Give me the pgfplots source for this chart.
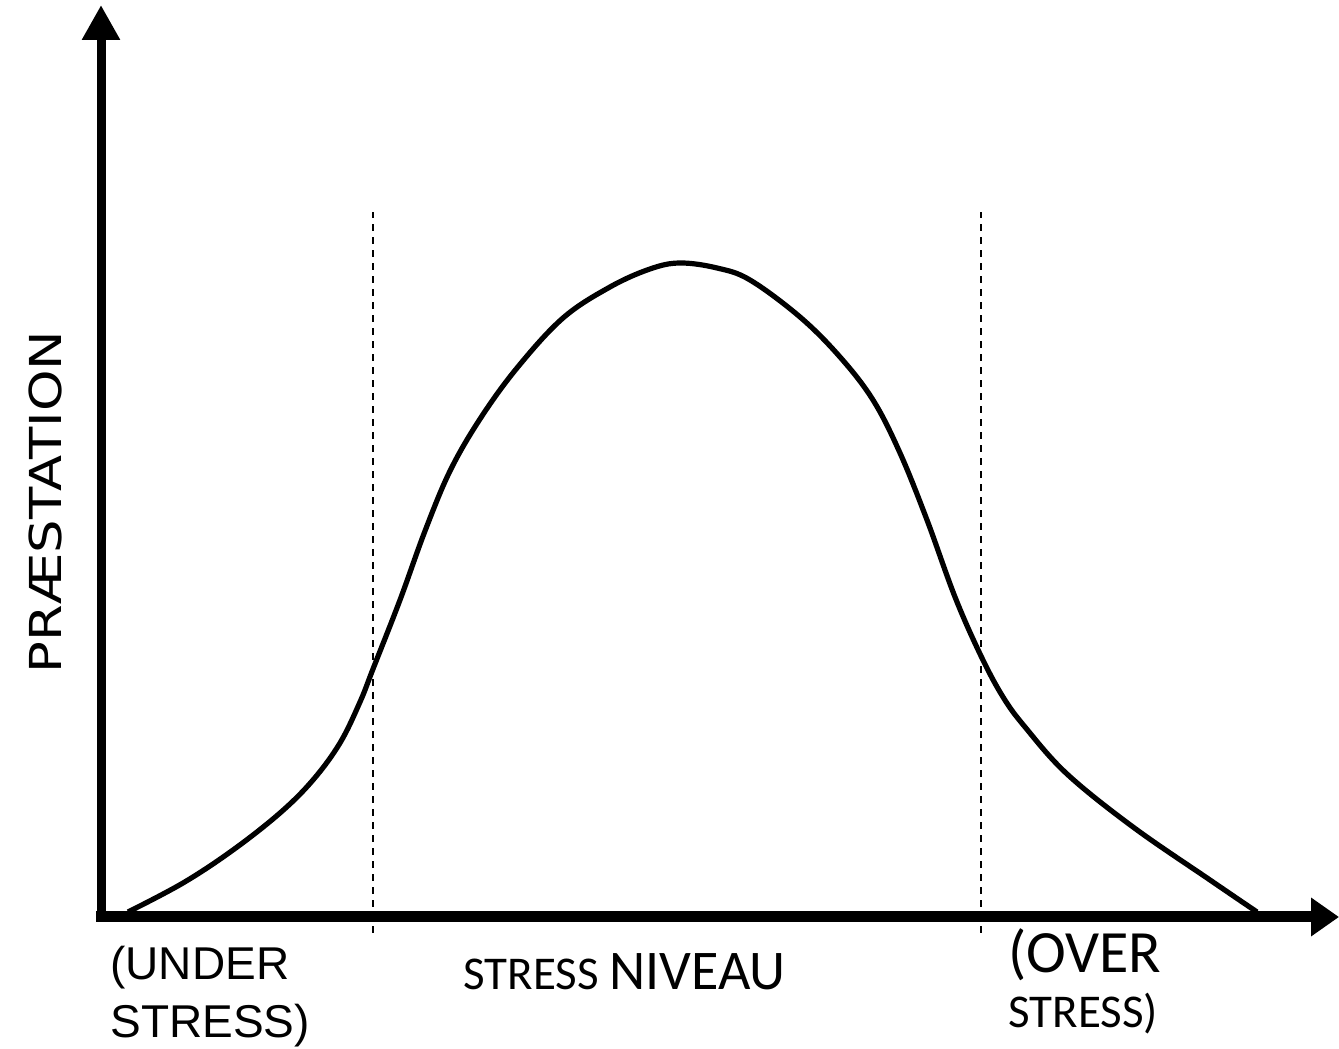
\documentclass[border=0pt]{standalone}
\usepackage{fontspec}
\setmainfont{Liberation Sans}
\newfontfamily\calibri{Carlito}
\newfontfamily\comic{DejaVu Sans}
\usepackage{pgfplots}
\pgfplotsset{compat=1.18}
\usetikzlibrary{arrows.meta}
\begin{document}
\begin{tikzpicture}
\begin{axis}[
  scale only axis, width=669.5pt, height=524.5pt,
  xmin=0, xmax=1339, ymin=0, ymax=1049,
  hide axis, clip=false]
% dashed zone borders
\addplot[black, line width=0.7pt, dash pattern=on 3.5pt off 3pt] coordinates {(373,116) (373,837)};
\addplot[black, line width=0.7pt, dash pattern=on 3.5pt off 3pt] coordinates {(981,116) (981,837)};
% performance curve
\addplot[black, line width=2.6pt, smooth, tension=0.6] coordinates {
(128,137) (183,166) (233,199) (280,236) (313,269) (340,306) (360,347) (373,380)
(400,449) (425,518) (450,578) (480,630) (517,681) (563,731) (610,762) (650,780)
(680,786) (717,781) (750,769) (800,732) (840,692) (873,649) (900,596) (927,529)
(955,452) (981,393) (1003,352) (1025,322) (1067,275) (1133,222) (1210,169) (1257,137)};
% axes
\draw[line width=4.5pt, -{Triangle[width=18pt,length=17.5pt]}] (axis cs:101,135) -- (axis cs:101,1044);
\draw[line width=5.5pt, -{Triangle[width=18.5pt,length=14pt]}] (axis cs:96,132) -- (axis cs:1339,132);
% labels
\node[rotate=90, anchor=center] at (axis cs:45,547) {\comic\fontsize{22}{26}\selectfont\scalebox{1.2}[1]{PRÆSTATION}};
\node[anchor=base west, inner sep=0pt] at (axis cs:110,69) {\fontsize{23}{28}\selectfont (UNDER};
\node[anchor=base west, inner sep=0pt] at (axis cs:110,11) {\fontsize{23}{28}\selectfont STRESS)};
\node[anchor=base west, inner sep=0pt] at (axis cs:463,59) {\calibri\fontsize{23.5}{28}\selectfont STRESS \fontsize{28}{32}\selectfont NIVEAU};
\node[anchor=base west, inner sep=0pt] at (axis cs:1008,76) {\calibri\fontsize{30}{34}\selectfont (OVER};
\node[anchor=base west, inner sep=0pt] at (axis cs:1008,21) {\calibri\fontsize{23.5}{28}\selectfont STRESS)};
\end{axis}
\pgfresetboundingbox
\path (0,0) rectangle (669.5pt,524.5pt);
\end{tikzpicture}
\end{document}
